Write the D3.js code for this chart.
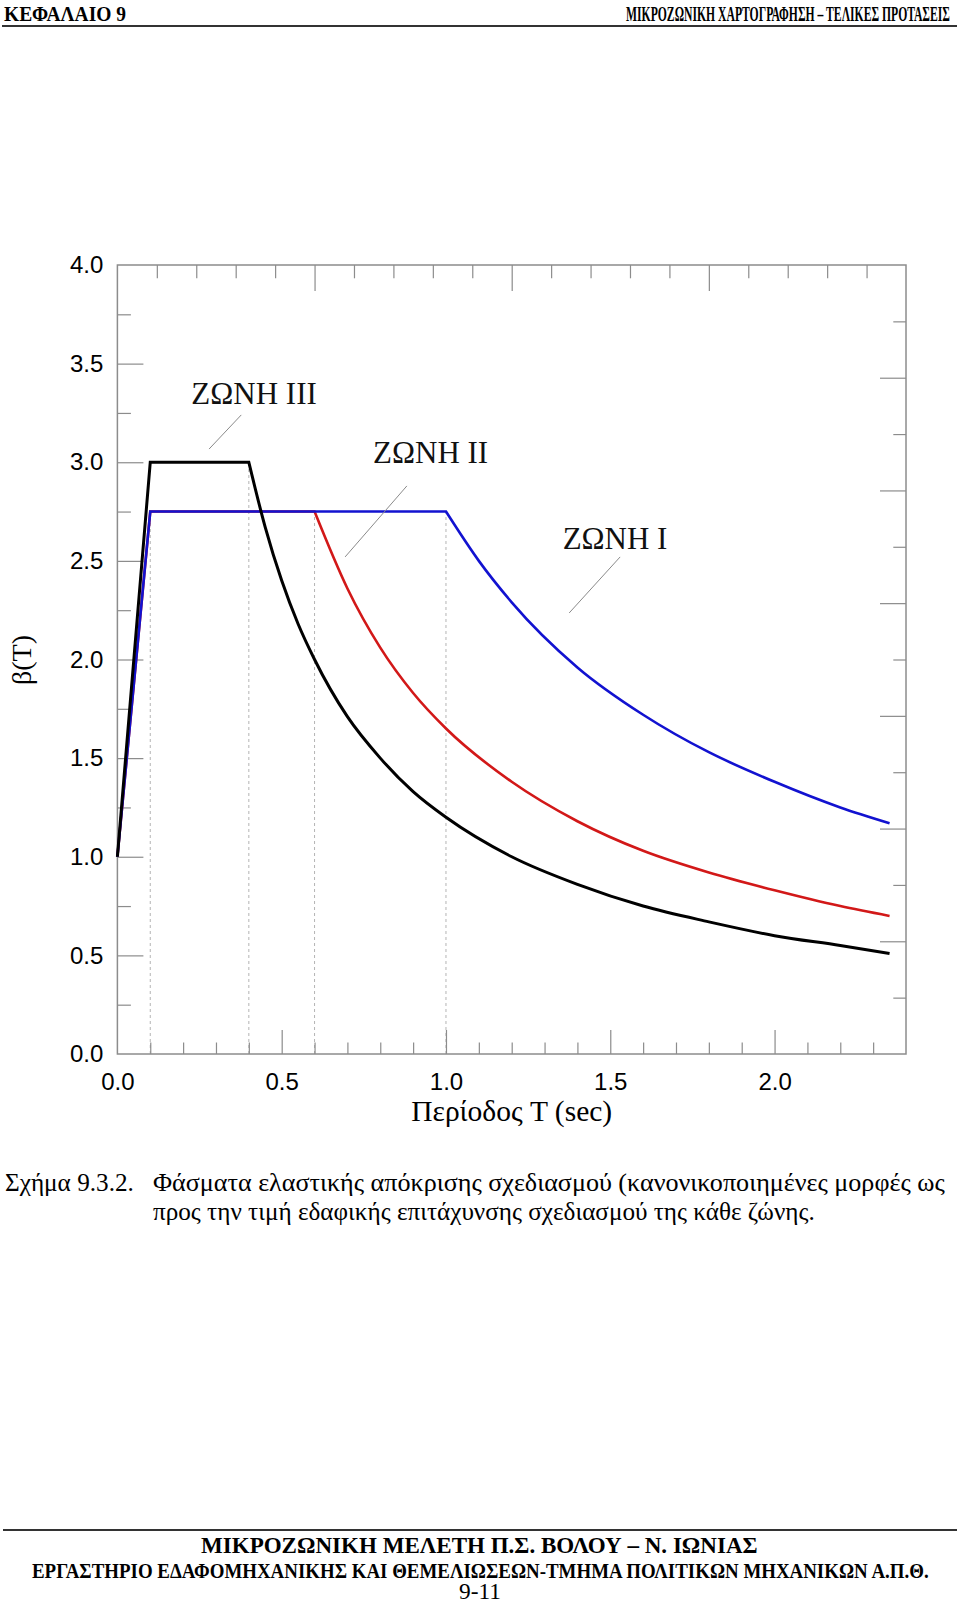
<!DOCTYPE html>
<html><head><meta charset="utf-8">
<script src="https://cdn.jsdelivr.net/npm/d3@7"></script>
<style>body{margin:0;background:#fff}svg{display:block}</style>
</head><body>
<svg id="c" width="960" height="1603"></svg>
<script>
// ---------------- data ----------------
const periodsIII = [0, 0.1, 0.4, 0.45, 0.5, 0.55, 0.6, 0.7, 0.8, 0.9, 1.0, 1.2, 1.4, 1.6, 1.8, 2.0, 2.2, 2.35];
const betaIII    = [1.0, 3.0, 3.0, 2.67, 2.40, 2.18, 2.00, 1.71, 1.50, 1.33, 1.20, 1.00, 0.86, 0.75, 0.67, 0.60, 0.55, 0.51];
const periodsII  = [0, 0.1, 0.6, 0.7, 0.8, 0.9, 1.0, 1.2, 1.4, 1.6, 1.8, 2.0, 2.2, 2.35];
const betaII     = [1.0, 2.75, 2.75, 2.36, 2.06, 1.83, 1.65, 1.38, 1.18, 1.03, 0.92, 0.83, 0.75, 0.70];
const periodsI   = [0, 0.1, 1.0, 1.1, 1.2, 1.4, 1.6, 1.8, 2.0, 2.2, 2.35];
const betaI      = [1.0, 2.75, 2.75, 2.50, 2.29, 1.96, 1.72, 1.53, 1.38, 1.25, 1.17];
const cornerPeriods = [0.1, 0.4, 0.6, 1.0];
const cornerBetas   = [2.75, 3.0, 2.75, 2.75];
const zoneNames  = ["ΖΩΝΗ III", "ΖΩΝΗ II", "ΖΩΝΗ I"];
const xTickLabels = [0, 0.5, 1.0, 1.5, 2.0];
const yTickLabels = [0, 0.5, 1.0, 1.5, 2.0, 2.5, 3.0, 3.5, 4.0];
const xTitle = "Περίοδος T (sec)";
const yTitle = "β(T)";

// ---------------- layout ----------------
const svg = d3.select("#c");
svg.append("rect").attr("width",960).attr("height",1603).attr("fill","#fff");
const L=117.4, R=906, T=265, B=1054;
const x = d3.scaleLinear().domain([0,2.4]).range([L,R]);
const y = d3.scaleLinear().domain([0,4]).range([B,T]);
const xTop = d3.scaleLinear().domain([0,20]).range([L,R]);
const yRight = d3.scaleLinear().domain([0,7]).range([B,T]);
const serif = "'Liberation Serif','Times New Roman',serif";
const sans = "'Liberation Sans',Arial,Helvetica,sans-serif";
const tickCol = "#8c8c8c";

function rng(a,b,s){const n=Math.round((b-a)/s);return d3.range(n+1).map(i=>+(a+i*s).toFixed(4));}
function isMult(v,m){return Math.abs(v/m-Math.round(v/m))<1e-6;}

// dashed verticals
svg.append("g").selectAll("line").data(cornerPeriods).join("line")
  .attr("x1",d=>x(d)).attr("x2",d=>x(d))
  .attr("y1",y(0)).attr("y2",(d,i)=>y(cornerBetas[i]))
  .attr("stroke","#b4b4b4").attr("stroke-width",1).attr("stroke-dasharray","3,3");

function styleAxis(g){
  g.select(".domain").remove();
  g.selectAll(".tick line").attr("stroke",tickCol).attr("stroke-width",1.2);
  g.selectAll(".tick text").attr("fill","#000").attr("font-family",sans).attr("font-size",24);
}
// left
const leftAll = rng(0.25,3.75,0.25);
svg.append("g").attr("transform",`translate(${L},0)`)
  .call(d3.axisLeft(y).tickValues(leftAll.filter(v=>!isMult(v,0.5))).tickSize(-13.5).tickFormat(""))
  .call(styleAxis);
svg.append("g").attr("transform",`translate(${L},0)`)
  .call(d3.axisLeft(y).tickValues(yTickLabels).tickSize(-26).tickPadding(14).tickFormat(d3.format(".1f")))
  .call(styleAxis)
  .call(g=>g.selectAll(".tick line").filter(d=>d===0||d===4).remove());
// bottom
const botAll = rng(0.1,2.3,0.1);
svg.append("g").attr("transform",`translate(0,${B})`)
  .call(d3.axisBottom(x).tickValues(botAll.filter(v=>!isMult(v,0.5))).tickSize(-11.5).tickFormat(""))
  .call(styleAxis);
svg.append("g").attr("transform",`translate(0,${B})`)
  .call(d3.axisBottom(x).tickValues(xTickLabels).tickSize(-24).tickPadding(19).tickFormat(d3.format(".1f")))
  .call(styleAxis)
  .call(g=>g.selectAll(".tick line").filter(d=>d===0).remove());
// top
const topAll = rng(1,19,1);
svg.append("g").attr("transform",`translate(0,${T})`)
  .call(d3.axisTop(xTop).tickValues(topAll).tickSize(0).tickFormat(""))
  .call(styleAxis)
  .call(g=>g.selectAll(".tick line").attr("y2",d=>isMult(d,5)?26:13.3));
// right
const rightAll = rng(0.5,6.5,0.5);
svg.append("g").attr("transform",`translate(${R},0)`)
  .call(d3.axisRight(yRight).tickValues(rightAll).tickSize(0).tickFormat(""))
  .call(styleAxis)
  .call(g=>g.selectAll(".tick line").attr("x2",d=>isMult(d,1)?-26:-12.7));

// frame
svg.append("rect").attr("x",L).attr("y",T).attr("width",R-L).attr("height",B-T)
  .attr("fill","none").attr("stroke",tickCol).attr("stroke-width",1.5);

// curves
const lin = d3.line().x(d=>x(d[0])).y(d=>y(d[1]));
const mono = d3.line().x(d=>x(d[0])).y(d=>y(d[1])).curve(d3.curveMonotoneX);
function spectrumPath(ts, bs){
  const pts = ts.map((t,i)=>[t,bs[i]]);
  return lin(pts.slice(0,3)) + mono(pts.slice(2)).replace(/^M/,"L");
}
const series = [
  {t:periodsII, b:betaII, color:"#d21818", w:2.6},
  {t:periodsI, b:betaI, color:"#1212d0", w:2.6},
  {t:periodsIII, b:betaIII, color:"#000000", w:3}
];
svg.append("g").selectAll("path").data(series).join("path")
  .attr("d",d=>spectrumPath(d.t,d.b))
  .attr("fill","none").attr("stroke",d=>d.color).attr("stroke-width",d=>d.w)
  .attr("stroke-linejoin","miter");

// zone labels + leader lines (data coordinates)
const labelAt = [[0.225,3.295],[0.778,2.996],[1.355,2.56]];
const leaderFrom = [[0.377,3.24],[0.881,2.88],[1.530,2.52]];
const leaderTo = [[0.279,3.067],[0.693,2.52],[1.375,2.236]];
svg.append("g").selectAll("line").data(leaderFrom).join("line")
  .attr("x1",d=>x(d[0])).attr("y1",d=>y(d[1]))
  .attr("x2",(d,i)=>x(leaderTo[i][0])).attr("y2",(d,i)=>y(leaderTo[i][1]))
  .attr("stroke","#8a8a8a").attr("stroke-width",1);
svg.append("g").selectAll("text").data(zoneNames).join("text")
  .attr("x",(d,i)=>x(labelAt[i][0])).attr("y",(d,i)=>y(labelAt[i][1]))
  .attr("font-family",serif).attr("font-size",31).attr("fill","#111").text(d=>d);

// axis titles
svg.append("text").attr("x",(L+R)/2).attr("y",1121).attr("text-anchor","middle")
  .attr("font-family",serif).attr("font-size",29.5).text(xTitle);
svg.append("text").attr("transform","translate(31,660) rotate(-90)").attr("text-anchor","middle")
  .attr("font-family",serif).attr("font-size",28).text(yTitle);

// page header / caption / footer (width fitted with a horizontal scale)
function txt(s,xx,yy,size,len,bold){
  const t=svg.append("text").attr("x",0).attr("y",0).attr("font-family",serif).attr("font-size",size)
    .attr("fill","#000").text(s);
  if(bold)t.attr("font-weight","bold");
  const w=t.node().getComputedTextLength();
  t.attr("transform",`translate(${xx},${yy}) scale(${len/w},1)`);
  return t;
}
txt("ΚΕΦΑΛΑΙΟ 9",4,21,22,122,true);
txt("ΜΙΚΡΟΖΩΝΙΚΗ ΧΑΡΤΟΓΡΑΦΗΣΗ – ΤΕΛΙΚΕΣ ΠΡΟΤΑΣΕΙΣ",626,21,22,324,true);
svg.append("line").attr("x1",2).attr("x2",957).attr("y1",26).attr("y2",26).attr("stroke","#333").attr("stroke-width",2);

txt("Σχήμα 9.3.2.",5,1191,25,129,false);
txt("Φάσματα ελαστικής απόκρισης σχεδιασμού (κανονικοποιημένες μορφές ως",153,1191,25,792,false);
txt("προς την τιμή εδαφικής επιτάχυνσης σχεδιασμού της κάθε ζώνης.",153,1220,25,662,false);

svg.append("line").attr("x1",3).attr("x2",957).attr("y1",1530).attr("y2",1530).attr("stroke","#333").attr("stroke-width",2);
txt("ΜΙΚΡΟΖΩΝΙΚΗ ΜΕΛΕΤΗ Π.Σ. ΒΟΛΟΥ –  Ν. ΙΩΝΙΑΣ",201,1553,24,557,true);
txt("ΕΡΓΑΣΤΗΡΙΟ ΕΔΑΦΟΜΗΧΑΝΙΚΗΣ ΚΑΙ ΘΕΜΕΛΙΩΣΕΩΝ-ΤΜΗΜΑ ΠΟΛΙΤΙΚΩΝ ΜΗΧΑΝΙΚΩΝ Α.Π.Θ.",32,1578,20,897,true);
txt("9-11",459,1599,23,42,false);
</script>
</body></html>
